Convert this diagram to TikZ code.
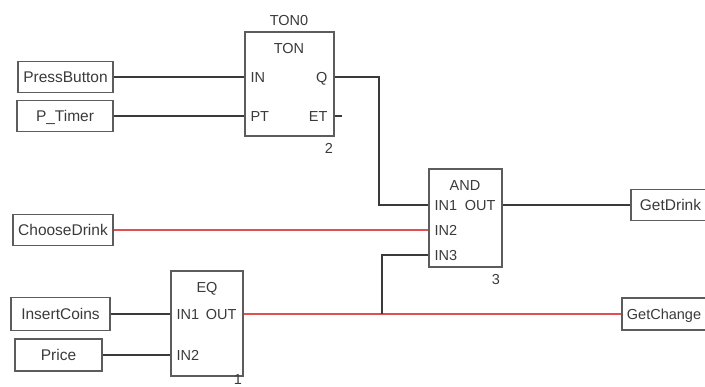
\documentclass[tikz,border=0pt]{standalone}
\usepackage{fontspec}
\setmainfont{Liberation Sans}
\usetikzlibrary{positioning, calc}
\definecolor{grisoscuro}{HTML}{3A3A3A}
\definecolor{grisborde}{HTML}{5C5C5C}
\definecolor{rojosenal}{HTML}{E05050}
\colorlet{colTexto}{grisoscuro}
\colorlet{colCable}{grisoscuro}
\colorlet{colBorde}{grisborde}
\colorlet{colActivo}{rojosenal}
\newcommand{\fuenteFbd}{\fontsize{14.5}{16}\selectfont}
\newcommand{\fuenteVar}{\fontsize{15.5}{17}\selectfont}
\tikzset{
  textoBase/.style={font=\fuenteFbd, text=colTexto, inner sep=0pt,
    text height=10.4pt, text depth=0pt},
  cajaVariable/.style={textoBase, font=\fuenteVar, text height=11.1pt,
    draw=colBorde, line width=1.4pt, minimum height=31pt},
  cajaBloque/.style={draw=colBorde, line width=1.4pt, inner sep=0pt},
  pinIzq/.style={textoBase, anchor=west, xshift=6pt},
  pinDer/.style={textoBase, anchor=east, xshift=-7pt},
  cable/.style={draw=colCable, line width=1.1pt},
  cableActivo/.style={draw=colActivo, line width=1.1pt},
}
\begin{document}
\begin{tikzpicture}[x=1pt, y=-1pt]
  \useasboundingbox (0,0) rectangle (705,387);

  % variables de entrada
  \node[cajaVariable, minimum width=95pt] (press) at (65.5,77) {PressButton};
  \node[cajaVariable, minimum width=96pt] (ptimer) at (65,116) {P\_Timer};
  \node[cajaVariable, minimum width=100pt] (choose) at (63,230) {ChooseDrink};
  \node[cajaVariable, minimum width=99pt, minimum height=33pt] (coins) at (60.5,314) {InsertCoins};
  \node[cajaVariable, minimum width=87pt, minimum height=32pt] (price) at (58.5,355) {Price};

  % variables de salida
  \node[cajaVariable, minimum width=79pt] (drink) at (670.5,205) {GetDrink};
  \node[cajaVariable, font=\fuenteFbd, text height=10.4pt, minimum width=84pt,
    minimum height=32pt] (change) at (664,314) {GetChange};

  % bloque TON
  \node[cajaBloque, minimum width=89pt, minimum height=104pt] (ton) at (289.5,84) {};
  \node[textoBase] (tonInst) at (289,20) {TON0};
  \node[textoBase] (tonTipo) at (289,48) {TON};
  \node[pinIzq] (tonIN) at (ton.west |- press) {IN};
  \node[pinIzq] (tonPT) at (ton.west |- ptimer) {PT};
  \node[pinDer] (tonQ) at (ton.east |- press) {Q};
  \node[pinDer] (tonET) at (ton.east |- ptimer) {ET};
  \node[textoBase] (tonNum) at (329,148) {2};

  % bloque AND
  \node[cajaBloque, minimum width=73pt, minimum height=98pt] (and) at (465.5,218) {};
  \node[textoBase] (andTipo) at (465,185) {AND};
  \node[pinIzq] (andIN1) at (and.west |- drink) {IN1};
  \node[pinIzq] (andIN2) at (and.west |- choose) {IN2};
  \node[pinIzq] (andIN3) at ($(and.west |- choose)+(0,25)$) {IN3};
  \node[pinDer] (andOUT) at (and.east |- drink) {OUT};
  \node[textoBase] (andNum) at (496,279) {3};

  % bloque EQ
  \node[cajaBloque, minimum width=72pt, minimum height=105pt] (eq) at (207,323.5) {};
  \node[textoBase] (eqTipo) at (207,287) {EQ};
  \node[pinIzq] (eqIN1) at (eq.west |- coins) {IN1};
  \node[pinIzq] (eqIN2) at (eq.west |- price) {IN2};
  \node[pinDer] (eqOUT) at (eq.east |- coins) {OUT};
  \node[textoBase] (eqNum) at (238,379) {1};

  \coordinate (codoQ) at (379,0);
  \coordinate (union) at (382,314);

  % conexiones
  \draw[cable] (press.east) -- (press.east -| ton.west);
  \draw[cable] (ptimer.east) -- (ptimer.east -| ton.west);
  \draw[cable] (tonET -| ton.east) -- ++(7,0);
  \draw[cable] (tonQ -| ton.east) -| (codoQ |- andIN1) -- (andIN1 -| and.west);
  \draw[cableActivo] (choose.east) -- (choose.east -| and.west);
  \draw[cable] (andOUT -| and.east) -- (drink.west);
  \draw[cable] (coins.east) -- (coins.east -| eq.west);
  \draw[cable] (price.east) -- (price.east -| eq.west);
  \draw[cableActivo] (eqOUT -| eq.east) -- (change.west);
  \draw[cable] (union) |- (andIN3 -| and.west);
\end{tikzpicture}
\end{document}
